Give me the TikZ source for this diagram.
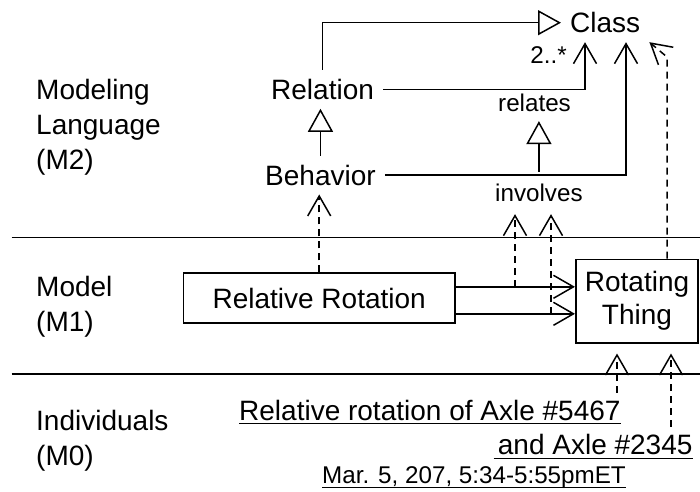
\documentclass[tikz,border=0pt]{standalone}
\usepackage{fontspec}
\setmainfont{Liberation Sans}
\usetikzlibrary{arrows.meta,calc}
\begin{document}
\begin{tikzpicture}[x=1pt,y=-1pt,
  big/.style={font=\fontsize{28}{35}\selectfont},
  small/.style={font=\fontsize{24.2}{28}\selectfont},
  lbl/.style={big, inner sep=9pt, anchor=base west},
  slbl/.style={small, inner sep=9pt, anchor=base west},
  layer/.style={big, align=left, anchor=north west, inner sep=0pt},
  box/.style={draw, line width=1.6pt, align=center, inner sep=0pt},
  indiv/.style={big, inner sep=0pt},
  conn/.style={line width=1.5pt},
  open/.style={-{Straight Barb[length=20pt,width=23pt,line width=1.5pt]}},
  gen/.style={-{Triangle[open,length=23pt,width=25pt,line width=1.5pt]}},
  dep/.style={conn, dash pattern=on 7pt off 5pt, open},
  uline/.style={line width=1.4pt},
  sep/.style={line width=1.7pt}
]
\useasboundingbox (0,0) rectangle (700,491);

% layer separators
\coordinate (s1) at (11.5,237.4);
\coordinate (s2) at (11.5,374);
\draw[sep] (s1) -- (s1 -| 700,0);
\draw[sep] (s2) -- (s2 -| 700,0);

% layer names
\node[layer] (m2) at (36,78.6) {Modeling\\Language\\(M2)};
\node[layer] (m1) at (36,275.6) {Model\\(M1)};
\node[layer] (m0) at (36,409.6) {Individuals\\(M0)};

% M2 elements
\node[lbl] (cls) at (561,32.7) {Class};
\node[lbl] (rel) at (262,99.3) {Relation};
\node[lbl] (beh) at (256,185) {Behavior};
\node[slbl] (rela) at (489,111.7) {relates};
\node[slbl, inner sep=12pt] (inv) at (483,201.7) {involves};
\node[small, inner sep=0pt, anchor=base east] (mult) at (567,63) {2..*};

% M1 elements
\node[box, big, minimum width=271.5pt, minimum height=49.7pt] (rr) at (319.2,298.1) {Relative Rotation};
\node[box, font=\fontsize{28}{33}\selectfont, minimum width=122.5pt, minimum height=83.4pt] (rt) at (637,301) {Rotating\\Thing};

% M0 elements
\node[indiv, anchor=base west] (ind1) at (239,420) {Relative rotation of Axle \#5467};
\node[indiv, anchor=base east] (ind2) at (692.7,454) {and Axle \#2345};
\node[small, inner sep=0pt, anchor=base west] (date) at (322,483.3) {Mar. 5, 207, 5:34-5:55pmET};
\draw[uline] ([yshift=-3.6pt]ind1.base west) -- ([yshift=-3.6pt]ind1.base east);
\draw[uline] ([yshift=-4.2pt,xshift=-4pt]ind2.base west) -- ([yshift=-4.2pt]ind2.base east);
\draw[uline] ([yshift=-4pt]date.base west) -- ([yshift=-4pt]date.base east);

% generalizations
\draw[conn, gen] (rel.north) |- (cls.west);
\draw[conn, gen] (beh.north) -- (beh.north |- rel.south);
\draw[conn, gen] (inv.north) -- (inv.north |- rela.south);

% associations into Class
\coordinate (x1) at (585,0);
\coordinate (x2) at (626,0);
\draw[conn, open] (rel.east) -| (x1 |- cls.south);
\draw[conn, open] (beh.east) -| (x2 |- cls.south);

% associations between model elements
\coordinate (p1) at ([yshift=11.3pt]rr.east);
\coordinate (p2) at ([yshift=-15.7pt]rr.east);
\draw[conn, open] (p1) -- (p1 -| rt.west);
\draw[conn, open] (p2) -- (p2 -| rt.west);

% instance-of dependencies
\coordinate (x3) at (515,0);
\coordinate (x4) at (551,0);
\draw[dep] (p1 -| x3) -- (x3 |- inv.south);
\draw[dep] (p2 -| x4) -- (x4 |- inv.south);
\draw[dep] (rr.north) -- (rr.north |- beh.south);
\coordinate (bend) at (667,57);
\draw[dep] (bend |- rt.north) -- (bend) -- (cls.south east);

\coordinate (x6) at (617,0);
\coordinate (x7) at (671,0);
\draw[dep] ([yshift=7pt]x6 |- ind1.north) -- ([yshift=-10pt]x6 |- rt.south);
\draw[dep] ([yshift=7pt]x7 |- ind2.north) -- ([yshift=-10pt]x7 |- rt.south);
\end{tikzpicture}
\end{document}
